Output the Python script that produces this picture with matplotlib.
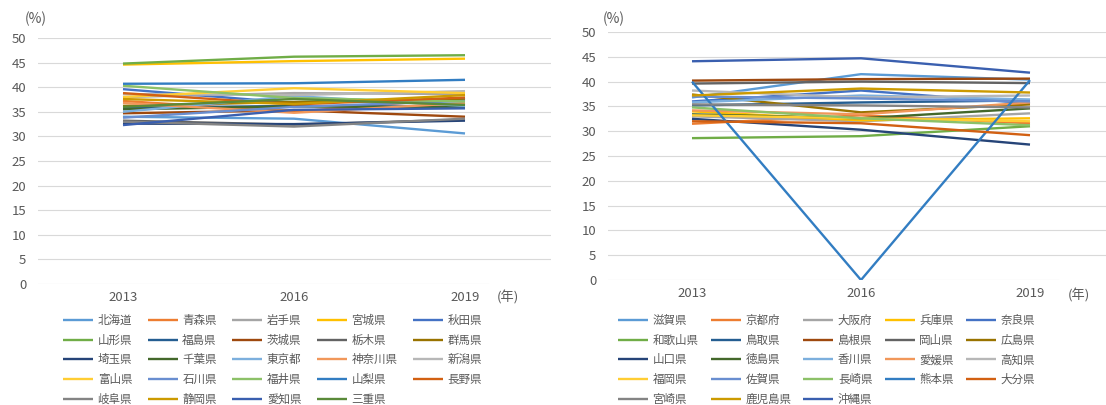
import matplotlib
matplotlib.use("Agg")
import matplotlib.pyplot as plt

plt.rcParams['font.family'] = ['Noto Sans CJK JP', 'DejaVu Sans']

years = ["2013", "2016", "2019"]

# 北海道〜三重県
east_names = ["北海道", "青森県", "岩手県", "宮城県", "秋田県", "山形県",
              "福島県", "茨城県", "栃木県", "群馬県", "埼玉県", "千葉県",
              "東京都", "神奈川県", "新潟県", "富山県", "石川県", "福井県",
              "山梨県", "長野県", "岐阜県", "静岡県", "愛知県", "三重県"]
east_values = [
    [34.0, 33.6, 30.6], [37.2, 35.0, 37.8], [38.0, 38.8, 38.6], [44.6, 45.3, 45.8],
    [39.6, 36.8, 37.6], [44.8, 46.2, 46.5], [35.8, 36.2, 36.0], [34.7, 35.3, 34.0],
    [33.2, 32.4, 33.4], [36.2, 37.0, 37.4], [32.6, 32.5, 33.2], [35.5, 36.1, 35.9],
    [35.0, 38.2, 36.2], [36.8, 34.8, 36.8], [38.6, 38.4, 39.2], [38.0, 39.8, 38.8],
    [33.8, 36.0, 37.2], [40.3, 37.8, 37.1], [40.7, 40.8, 41.5], [38.8, 36.5, 37.9],
    [33.0, 32.0, 33.6], [37.6, 36.6, 38.4], [32.3, 35.4, 35.7], [36.0, 37.6, 36.4],
]

# 滋賀県〜沖縄県
west_names = ["滋賀県", "京都府", "大阪府", "兵庫県", "奈良県", "和歌山県",
              "鳥取県", "島根県", "岡山県", "広島県", "山口県", "徳島県",
              "香川県", "愛媛県", "高知県", "福岡県", "佐賀県", "長崎県",
              "熊本県", "大分県", "宮崎県", "鹿児島県", "沖縄県"]
west_values = [
    [36.8, 41.5, 40.4], [31.5, 33.2, 31.6], [33.0, 32.0, 33.6], [34.0, 32.2, 32.6],
    [36.0, 38.2, 35.6], [28.6, 29.0, 31.0], [35.2, 35.8, 36.2], [40.2, 40.5, 40.6],
    [39.6, 40.0, 39.7], [37.4, 33.8, 35.4], [32.5, 30.3, 27.3], [33.4, 32.6, 34.6],
    [35.8, 37.2, 36.4], [34.2, 33.4, 35.8], [38.2, 36.8, 37.2], [33.2, 32.6, 32.0],
    [37.0, 36.6, 36.0], [34.8, 32.6, 31.2], [40.0, 0.0, 40.3], [32.0, 31.6, 29.2],
    [35.4, 35.2, 34.8], [37.2, 38.6, 37.8], [44.1, 44.7, 41.8],
]

# Office テーマの系列色（24色で一巡）
palette = ["#5B9BD5", "#ED7D31", "#A5A5A5", "#FFC000", "#4472C4", "#70AD47",
           "#255E91", "#9E480E", "#636363", "#997300", "#264478", "#43682B",
           "#7CAFDD", "#F1975A", "#B7B7B7", "#FFCD33", "#698ED0", "#8CC168",
           "#327DC2", "#D26012", "#848484", "#CC9A00", "#3A5FAF", "#5A8A39"]

TXT = "#595959"
GRID = "#D9D9D9"

fig = plt.figure(figsize=(11.06, 4.05), dpi=100)


def draw_panel(rect, names, values, axis_end, legend_xy, colspace):
    ax = fig.add_axes(rect)
    x = range(len(years))
    lines = []
    for i, (name, vals) in enumerate(zip(names, values)):
        ln, = ax.plot(x, vals, color=palette[i % len(palette)], lw=1.7,
                      label=name, solid_capstyle="butt")
        lines.append(ln)
    ax.set_xlim(-0.5, 2.5)
    ax.set_ylim(0, 50)
    ax.set_yticks(range(0, 51, 5))
    ax.set_xticks(list(x))
    ax.set_xticklabels(years)
    for y in range(5, 51, 5):
        ax.axhline(y, color=GRID, lw=0.8, zorder=0)
    ax.axhline(0, xmin=0, xmax=axis_end, color=GRID, lw=0.8, zorder=0)
    for s in ax.spines.values():
        s.set_visible(False)
    ax.tick_params(length=0, colors=TXT, labelsize=9.5)
    ax.tick_params(axis="y", pad=8)
    ax.tick_params(axis="x", pad=5)
    for lab in ax.get_xticklabels() + ax.get_yticklabels():
        lab.set_color(TXT)

    # 行方向に並ぶように列順へ並べ替え
    ncol = 5
    order = [r * ncol + c for c in range(ncol) for r in range(5)
             if r * ncol + c < len(lines)]
    leg = fig.legend([lines[k] for k in order], [names[k] for k in order],
                     ncol=ncol, loc="upper left", bbox_to_anchor=legend_xy,
                     frameon=False, fontsize=8.3, handlelength=2.6,
                     handletextpad=0.4, columnspacing=colspace,
                     labelspacing=0.58, borderpad=0, borderaxespad=0)
    for t in leg.get_texts():
        t.set_color(TXT)
    return ax


W, H = 1106, 405
draw_panel([37.5 / W, (H - 284) / H, 513 / W, 246 / H],
           east_names, east_values, 0.878, (63 / W, 1 - 314 / H), 1.35)
draw_panel([607.5 / W, (H - 280) / H, 507 / W, 248 / H],
           west_names, west_values, 0.889, (618 / W, 1 - 314 / H), 1.05)

fig.text(25 / W, 1 - 19 / H, "(%)", color=TXT, fontsize=10, va="center")
fig.text(603 / W, 1 - 19 / H, "(%)", color=TXT, fontsize=10, va="center")
fig.text(497 / W, 1 - 297 / H, "(年)", color=TXT, fontsize=9.5, va="center")
fig.text(1068 / W, 1 - 296 / H, "(年)", color=TXT, fontsize=9.5, va="center")

fig.savefig("out.png", dpi=100)
